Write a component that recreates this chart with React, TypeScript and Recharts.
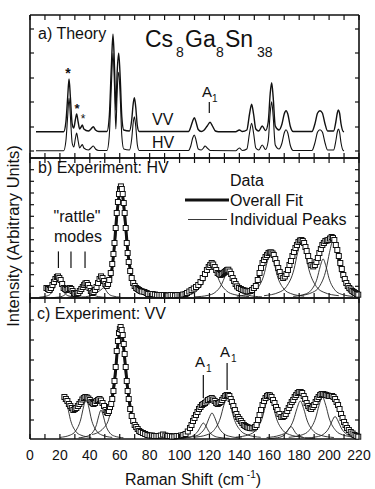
import React from 'react';
import { ComposedChart, Line, Scatter, XAxis, YAxis, ReferenceLine } from 'recharts';

const FONT = '"Liberation Sans", Arial, sans-serif';

// raman shift ticks (cm-1), labelled every 20
const xTicks = [0, 10, 20, 30, 40, 50, 60, 70, 80, 90, 100, 110, 120, 130, 140, 150, 160, 170, 180, 190, 200, 210, 220];

// a) theory, VV and HV spectra (offset traces)
const theoryVV = [[4,26.3],[22.5,26.3],[24,36],[25.2,61],[26.1,79],[27,61],[28.2,34],[29.3,30],[30.3,38],[31.2,44],[32.2,36],[33.2,29],[34.2,31],[35,33],[36,29],[39,27],[40.8,29],[42.3,31.3],[43.8,28],[46,26.5],[51.5,26.5],[53,41],[54.4,91],[55.5,123.7],[56.5,91],[57.4,48],[58.3,86],[59.3,104.7],[60.3,81],[61.4,41],[62.7,28],[66.5,27],[68,38],[69,54],[69.8,60.3],[70.7,51],[71.8,32],[73,26.5],[106,26.5],[107.5,31],[108.8,37],[109.9,40.3],[111,36],[112.5,28.5],[114.5,26.5],[116.5,28],[118.5,32],[120.4,35.7],[122,32],[124,27],[126,26.3],[137.5,26.3],[140,28],[142,26.5],[145,28],[146.8,44],[148.2,53.7],[149.5,44],[151,29],[153,27],[155.3,32],[157.5,27.5],[159.3,36],[160.6,64],[161.6,75.3],[162.6,61],[164,32],[166.5,28],[168.5,34],[170,44],[171.2,47.3],[172.4,44],[174,32],[176,26.5],[188.5,26.5],[190.5,34],[192.3,45],[193.9,47.3],[195.5,45],[197.3,34],[199,27],[203,27],[204.5,36],[205.5,45],[206.2,48],[207,45],[208,34],[209.5,26.5],[210,26.3]];
const theoryHV = [[4,7.3],[22.5,7.3],[24,17],[25.2,42],[26.1,60],[27,42],[28.2,15],[29.3,11],[30.3,19],[31.2,25],[32.2,17],[33.2,10],[34.2,12],[35,13.5],[36,10],[39,8],[40.8,10],[42.3,12],[43.8,9],[46,7.5],[51.5,7.5],[53,22],[54.4,72],[55.5,104.7],[56.5,72],[57.4,29],[58.3,67],[59.3,85.7],[60.3,62],[61.4,22],[62.7,9],[66.5,8],[68,19],[69,35],[69.8,41.3],[70.7,32],[71.8,13],[73,7.5],[106,7.5],[107.5,12],[108.8,20],[109.9,23],[111,18],[112.5,9],[114.5,8],[116,10],[117,12],[118.5,10],[120.5,7.5],[137.5,7.3],[140,10],[142,7.5],[145,9],[146.8,25],[148.2,34.7],[149.5,25],[151,10],[153,8],[155.3,13],[157.5,8.5],[159.3,17],[160.6,45],[161.6,56.3],[162.6,42],[164,13],[166.5,9],[168.5,15],[170,25],[171.2,28.3],[172.4,25],[174,13],[176,7.5],[188.5,7.5],[190.5,15],[192.3,26],[193.9,28.3],[195.5,26],[197.3,15],[199,8],[203,8],[204.5,17],[205.5,26],[206.2,29],[207,26],[208,15],[209.5,7.5],[210,7.3]];

// b) experiment HV
const hvData = [[11,10],[12,9],[13,8],[14,10],[15,13],[16,16],[17,19],[18,21],[18.7,21.6],[19.6,20],[20.5,18],[21.5,14],[22.5,10],[23.5,9],[24.5,8],[25.6,9],[26.7,10],[27.6,9],[28.5,7],[29.4,5],[30.3,4],[31.3,4.5],[32.3,5],[33.3,7],[34.3,9],[35.3,11],[36.2,13],[37,14.5],[37.9,15],[38.8,13],[39.8,10],[40.7,7],[41.6,5],[42.5,6],[43.5,8],[44.5,11],[45.5,15],[46.5,19],[47.5,21.6],[48.5,20],[49.4,17],[50.4,14],[51.3,12],[52.2,14],[53,18],[54,25],[55,34],[55.8,44],[56.5,55],[57.3,70],[58,85],[58.8,96],[59.5,104],[60.2,109],[60.8,111.6],[61.4,109],[62,104],[62.7,95],[63.3,85],[64,70],[64.7,55],[65.3,45],[66,36],[67,27],[68,20],[69,15],[70,12],[71,10],[72,9],[73,8],[74,7],[75,6.5],[76.5,6],[78,5],[79,4],[80.5,4],[82,4],[83.5,3.5],[85,3],[86.5,3],[88,3],[89.5,3],[91,2.5],[92.5,2.5],[94,3],[95.5,3],[97,2.5],[98.5,3],[100,3],[101.3,3],[102.5,3.5],[104,4],[105,5],[106.5,6.5],[108,8],[109.5,9.5],[111,11],[112.5,13],[114,16],[115.5,20],[117,24],[118.3,28],[119.5,31],[120.5,33],[121.5,35],[122.5,33.5],[123.5,31],[124.5,28],[125.5,25],[126.5,24],[127.5,23],[128.5,24],[129.5,25],[130.2,26],[131,27],[131.8,28],[132.6,28.3],[133.5,26.5],[134.5,24],[135.5,20],[136.5,17],[137.5,14],[138.5,11.6],[139.7,10],[141,9],[142.3,8],[143.5,7.5],[144.7,7],[146,6.6],[147.3,7],[148.5,8],[149.7,10],[151,12],[152.3,18],[153.5,25],[154.5,30],[155.5,35],[156.5,38],[157.5,41],[158.5,43],[159.5,45],[160.4,45.5],[161.3,45.6],[162.2,44.5],[163,43],[164,39],[165,35],[166,30],[167,26],[168,22],[169.3,20],[170.4,21.5],[171.5,24],[172.5,28],[173.5,33],[174.5,37],[175.5,42],[176.5,46],[177.5,50],[178.5,53],[179.5,56],[180.5,57.5],[181.5,58],[182.4,57],[183.3,55],[184.2,51],[185,47],[186,42],[187,37],[188.2,33],[189.4,31.6],[190.5,33],[191.5,36],[192.5,40],[193.5,45],[194.5,49],[195.5,53],[196.5,55],[197.5,57],[198.5,57.5],[199.5,58],[200.6,59.5],[201.7,61],[202.6,60],[203.5,58],[204.5,53],[205.5,48],[206.5,42],[207.5,35],[208.5,29],[209.5,23],[210.5,19],[211.5,15],[212.5,12],[213.5,10],[214.5,8.5],[215.5,7],[216.5,6],[217.5,5],[218.5,4],[219.5,3.3]];
const hvFit = [[11,9],[15,12],[18.7,20],[22,11],[24.5,7],[26.7,9],[29,6],[31.5,5],[34.5,9],[37.8,14],[41.5,6],[44.5,11],[47.8,20],[51,12],[53.5,18],[56,45],[58,82],[59.5,102],[60.7,109],[62,102],[63.5,80],[65.5,45],[68,21],[71,11],[75,6],[80,4],[90,2.5],[100,3],[105,5],[110,9],[115,18],[119,30],[121.5,34],[124.5,28],[127.5,23],[130,25],[132.5,27],[135.5,21],[139,11],[143,6.5],[147,7],[151,13],[155,32],[158.5,43],[161,45],[164,39],[167,27],[169.5,21],[172,25],[176,44],[179.5,55],[181.5,57],[184,52],[187,38],[189.5,32],[192,38],[195,50],[198,56],[201.5,59],[204,55],[207,38],[210,20],[214,9],[219.5,3]];
const hvPeaks = [
  [[6.2,0.8],[11.2,2],[13.7,4],[16.2,10],[17.5,16],[18.7,20],[19.9,16],[21.2,10],[23.7,4],[26.2,2],[31.2,0.8]],
  [[14.2,0.4],[19.2,0.9],[21.7,1.8],[24.2,4.5],[25.5,7.2],[26.7,9],[27.9,7.2],[29.2,4.5],[31.7,1.8],[34.2,0.9],[39.2,0.4]],
  [[24.9,0.6],[30.1,1.4],[32.7,2.8],[35.3,7],[36.6,11.2],[37.9,14],[39.2,11.2],[40.5,7],[43.1,2.8],[45.7,1.4],[50.9,0.6]],
  [[34.5,0.8],[39.7,2],[42.3,4],[44.9,10],[46.2,16],[47.5,20],[48.8,16],[50.1,10],[52.7,4],[55.3,2],[60.5,0.8]],
  [[41.7,4.3],[49.3,10.8],[53.1,21.6],[56.9,54],[58.8,86],[60.7,108],[62.6,86],[64.5,54],[68.3,21.6],[72.1,10.8],[79.7,4.3]],
  [[96.5,1.4],[106.5,3.5],[111.5,7],[116.5,17.5],[119,28],[121.5,35],[124,28],[126.5,17.5],[131.5,7],[136.5,3.5],[146.5,1.4]],
  [[110.1,1.1],[119.1,2.7],[123.6,5.4],[128.1,13.5],[130.4,21.6],[132.6,27],[134.9,21.6],[137.1,13.5],[141.6,5.4],[146.1,2.7],[155.1,1.1]],
  [[138.3,1.8],[147.3,4.5],[151.8,9],[156.3,22.5],[158.6,36],[160.8,45],[163.1,36],[165.3,22.5],[169.8,9],[174.3,4.5],[183.3,1.8]],
  [[156.5,2.3],[166.5,5.7],[171.5,11.4],[176.5,28.5],[179,45.6],[181.5,57],[184,45.6],[186.5,28.5],[191.5,11.4],[196.5,5.7],[206.5,2.3]],
  [[176,1.6],[184,3.9],[188,7.8],[192,19.5],[194,31.2],[196,39],[198,31.2],[200,19.5],[204,7.8],[208,3.9],[216,1.6]],
  [[180,2.3],[189,5.7],[193.5,11.4],[198,28.5],[200.3,45.6],[202.5,57],[204.8,45.6],[207,28.5],[211.5,11.4],[216,5.7],[220,3.5]],
];

// c) experiment VV
const vvData = [[23,42],[24,40],[25,38],[26,35],[27,33],[28,31],[29,29],[30,30],[31,31],[32,33],[33,35],[34,37],[35,39.5],[36,41],[37,42],[38,41.5],[39,40.5],[40,39],[41,37],[41.8,36],[42.5,35],[43.5,36],[44.5,38],[45.5,39],[46.5,40],[47.5,38.5],[48.5,36],[49.5,33],[50.5,29],[51.3,27],[52,26],[52.8,28],[53.5,32],[54.3,35],[55,40],[55.8,48],[56.5,58],[57.3,72],[58,88],[58.8,98],[59.5,106],[60.1,110],[60.6,112],[61.3,109],[62,104],[62.7,95],[63.3,85],[64,72],[64.7,58],[65.3,48],[66,40],[67,30],[68,23],[69,18],[70,14],[71,12],[72,10],[73,8],[74,7],[75.5,6],[77,5],[78.5,4],[80,3.5],[81.5,3.5],[83,3],[84.5,3],[86,3],[87.5,3.5],[89,4.5],[90.5,3.5],[92,3],[93.5,3],[95,2.5],[96.5,2.5],[98,3],[99.5,3],[101,3.5],[102.5,4],[104,5],[105.5,7.5],[107,11],[108,14],[109,18],[110,21],[111,24],[112,27],[113,30],[114,32],[115,34],[116,35],[117,36],[118,37.5],[119,39],[120.2,40],[121.5,41],[122.5,39.5],[123.5,38],[124.5,36],[125.5,35],[126.5,36],[127.5,37],[128.5,39],[129.5,41],[130.5,43],[131.5,44],[132.4,44],[133.3,43],[134.2,40],[135,37],[136,33],[137,29],[138,25],[139,22],[140,20],[141,18],[142,16],[143,14],[144,13],[145,12],[146,11.5],[147,11],[148.3,10.8],[149.5,10.7],[150.5,12],[151.5,14],[152.5,19],[153.5,24],[154.5,29],[155.5,34],[156.5,38],[157.5,41],[158.5,43],[159.5,44],[160.5,43.5],[161.5,42],[162.5,39],[163.5,36],[164.5,32],[165.5,29],[166.8,25],[168,22],[169,22],[170,23],[171,25],[172,28],[173,31],[174,34],[175,37],[176,39],[177,42],[178,44],[179,46],[180,47],[181,47],[182,46],[183,43],[184,40],[185,36],[186,33],[187,31],[188,30],[189,32],[190,34],[191,37],[192,40],[193,42],[194,44],[195,45],[196,45],[197,44.5],[198,44],[199,43.5],[200,43],[201,43],[202,43],[203,42],[204,40],[205,37],[206,34],[207,30],[208,25],[209,21],[210,17],[211,14],[212,11],[213.2,9],[214.5,7],[215.7,5.5],[217,4],[218.2,3],[219.5,2.3]];
const vvFit = [[23,40],[26,34],[29,29],[32,32],[36,40],[38,41],[42,35],[45,38],[47,38],[50,30],[52,27],[54.5,38],[57,65],[59,98],[60.6,108],[62,100],[63.5,78],[65.5,48],[68,24],[71,12],[75,6],[80,3.5],[90,3],[100,3.5],[105,6],[108,13],[111,24],[115,33],[118.5,37],[121.5,40],[125.5,35],[128.5,38],[131.5,43],[134,40],[137,29],[141,16],[145,12],[149,11],[153,22],[156.5,38],[159.7,43],[163,38],[166,26],[169.4,22],[173,30],[177,41],[180.5,46],[184,39],[188,30],[191,36],[195,44],[199,43],[203,41],[206,32],[209,20],[213,9],[219.5,2.5]];
const vvPeaks = [
  [[22,37],[23.5,39],[25.3,31],[27,19.5],[30.5,7.8],[34,3.9],[41,1.6]],
  [[20,1.6],[27,4],[30.5,8],[34,20],[35.8,32],[37.5,40],[39.3,32],[41,20],[44.5,8],[48,4],[55,1.6]],
  [[32.5,1.2],[38.5,2.9],[41.5,5.8],[44.5,14.5],[46,23.2],[47.5,29],[49,23.2],[50.5,14.5],[53.5,5.8],[56.5,2.9],[62.5,1.2]],
  [[41.6,4.4],[49.2,10.9],[53,21.8],[56.8,54.5],[58.7,87],[60.6,109],[62.5,87],[64.4,54.5],[68.2,21.8],[72,10.9],[79.6,4.4]],
  [[98.4,0.6],[105.4,1.6],[108.9,3.2],[112.4,8],[114.2,12.8],[115.9,16],[117.7,12.8],[119.4,8],[122.9,3.2],[126.4,1.6],[133.4,0.6]],
  [[101.7,1],[109.7,2.6],[113.7,5.2],[117.7,13],[119.7,20.8],[121.7,26],[123.7,20.8],[125.7,13],[129.7,5.2],[133.7,2.6],[141.7,1]],
  [[109.3,1.7],[118.3,4.2],[122.8,8.4],[127.3,21],[129.6,33.6],[131.8,42],[134.1,33.6],[136.3,21],[140.8,8.4],[145.3,4.2],[154.3,1.7]],
  [[137.5,1.8],[146.5,4.4],[151,8.8],[155.5,22],[157.8,35.2],[160,44],[162.3,35.2],[164.5,22],[169,8.8],[173.5,4.4],[182.5,1.8]],
  [[159.5,0.5],[165.5,1.3],[168.5,2.5],[171.5,6.3],[173,10],[174.5,12.5],[176,10],[177.5,6.3],[180.5,2.5],[183.5,1.3],[189.5,0.5]],
  [[158.2,1.5],[167.2,3.8],[171.7,7.6],[176.2,19],[178.5,30.4],[180.7,38],[183,30.4],[185.2,19],[189.7,7.6],[194.2,3.8],[203.2,1.5]],
  [[173,1.7],[182,4.2],[186.5,8.4],[191,21],[193.3,33.6],[195.5,42],[197.8,33.6],[200,21],[204.5,8.4],[209,4.2],[218,1.7]],
  [[184,0.9],[192,2.3],[196,4.5],[200,11.3],[202,18],[204,22.5],[206,18],[208,11.3],[212,4.5],[216,2.3],[220,1.3]],
];

// y tick marks (no labels) per panel
const aTicks = [7, 31, 56, 80, 105, 129];
const bTicks = [11.7, 23.3, 35, 46.7, 58.3, 70, 81.7, 93.3, 105, 116.7, 128.3];
const cTicks = [19, 39, 59, 79, 99, 119];

// annotation markers
const rattleMarks = [19, 27.4, 36.8];

const PLOT_W = 329;

const toPts = (a) => a.map(([x, y]) => ({ x, y }));

const Square = (props) => {
  const { cx, cy } = props;
  if (cx == null || cy == null) return null;
  return <rect x={cx - 2.5} y={cy - 2.5} width={5} height={5} fill="#fff" stroke="#111" strokeWidth={1} />;
};

// inward tick marks on bottom and top edge, optional labels under the bottom
const XTick = ({ x, y, payload, h, labels }) => (
  <g>
    <line x1={x} x2={x} y1={y} y2={y - 5} stroke="#111" strokeWidth={1.2} />
    <line x1={x} x2={x} y1={y - h} y2={y - h + 5} stroke="#111" strokeWidth={1.2} />
    {labels && payload.value % 20 === 0 ? (
      <text x={x} y={y + 21} textAnchor="middle" fontSize={14} fontFamily={FONT} fill="#111">{payload.value}</text>
    ) : null}
  </g>
);

// inward tick marks on left and right edge
const YTick = ({ x, y }) => (
  <g>
    <line x1={x} x2={x + 4} y1={y} y2={y} stroke="#111" strokeWidth={1.2} />
    <line x1={x + PLOT_W} x2={x + PLOT_W - 4} y1={y} y2={y} stroke="#111" strokeWidth={1.2} />
  </g>
);

const axisLine = { stroke: '#111', strokeWidth: 1.6 };

const Frame = ({ yMax, yTicks, h, labels }) => [
  <XAxis key="xb" dataKey="x" type="number" domain={[0, 220]} ticks={xTicks} height={1} interval={0}
    axisLine={axisLine} tickLine={false} tickSize={0} tickMargin={0}
    tick={(p) => <XTick {...p} h={h} labels={labels} />} />,
  <XAxis key="xt" xAxisId="top" orientation="top" dataKey="x" type="number" domain={[0, 220]} height={1}
    axisLine={axisLine} tickLine={false} tick={false} />,
  <YAxis key="yl" dataKey="y" type="number" domain={[0, yMax]} ticks={yTicks} width={1} interval={0}
    axisLine={axisLine} tickLine={false} tickSize={0} tickMargin={0} tick={(p) => <YTick {...p} />} />,
  <YAxis key="yr" yAxisId="r" orientation="right" type="number" domain={[0, yMax]} width={1}
    axisLine={axisLine} tickLine={false} tick={false} />,
];

const margin = (top, bottom) => ({ top, bottom, left: 29, right: 15 });

export default function App() {
  return (
    <div style={{ position: 'absolute', left: 0, top: 0, width: 375, height: 489, background: '#fff', fontFamily: FONT }}>
      {/* a) theory */}
      <div style={{ position: 'absolute', left: 0, top: 12 }}>
        <ComposedChart width={375} height={149} margin={margin(2, 2)}>
          {Frame({ yMax: 143, yTicks: aTicks, h: 143, labels: false })}
          <Line data={toPts(theoryVV)} dataKey="y" type="monotone" stroke="#111" strokeWidth={1.4} dot={false} isAnimationActive={false} />
          <Line data={toPts(theoryHV)} dataKey="y" type="monotone" stroke="#111" strokeWidth={1.1} dot={false} isAnimationActive={false} />
          <ReferenceLine segment={[{ x: 119.9, y: 45 }, { x: 119.9, y: 56 }]} stroke="#111" strokeWidth={1.2} />
        </ComposedChart>
      </div>

      {/* b) experiment HV */}
      <div style={{ position: 'absolute', left: 0, top: 155 }}>
        <ComposedChart width={375} height={146} margin={margin(2, 2)}>
          {Frame({ yMax: 140, yTicks: bTicks, h: 140, labels: false })}
          {hvPeaks.map((p, i) => (
            <Line key={'hp' + i} data={toPts(p)} dataKey="y" type="monotone" stroke="#222" strokeWidth={0.9} dot={false} isAnimationActive={false} />
          ))}
          <Line data={toPts(hvFit)} dataKey="y" type="monotone" stroke="#111" strokeWidth={3} dot={false} isAnimationActive={false} />
          <Scatter data={toPts(hvData)} shape={<Square />} isAnimationActive={false} />
          {rattleMarks.map((m) => (
            <ReferenceLine key={m} segment={[{ x: m, y: 30 }, { x: m, y: 46.6 }]} stroke="#111" strokeWidth={1.2} />
          ))}
        </ComposedChart>
      </div>

      {/* c) experiment VV */}
      <div style={{ position: 'absolute', left: 0, top: 295 }}>
        <ComposedChart width={375} height={194} margin={margin(2, 49)}>
          {Frame({ yMax: 141, yTicks: cTicks, h: 141, labels: true })}
          {vvPeaks.map((p, i) => (
            <Line key={'vp' + i} data={toPts(p)} dataKey="y" type="monotone" stroke="#222" strokeWidth={0.9} dot={false} isAnimationActive={false} />
          ))}
          <Line data={toPts(vvFit)} dataKey="y" type="monotone" stroke="#111" strokeWidth={3} dot={false} isAnimationActive={false} />
          <Scatter data={toPts(vvData)} shape={<Square />} isAnimationActive={false} />
          <ReferenceLine segment={[{ x: 115.9, y: 41 }, { x: 115.9, y: 64 }]} stroke="#111" strokeWidth={1.2} />
          <ReferenceLine segment={[{ x: 131.8, y: 49 }, { x: 131.8, y: 76 }]} stroke="#111" strokeWidth={1.2} />
        </ComposedChart>
      </div>

      {/* text annotations */}
      <svg width={375} height={489} style={{ position: 'absolute', left: 0, top: 0, pointerEvents: 'none' }} fontFamily={FONT} fill="#111">
        <text x={38} y={39} fontSize={16}>a) Theory</text>
        <text x={145} y={47} fontSize={23}>Cs</text>
        <text x={176} y={57} fontSize={14}>8</text>
        <text x={185} y={47} fontSize={23}>Ga</text>
        <text x={216} y={57} fontSize={14}>8</text>
        <text x={225} y={47} fontSize={23}>Sn</text>
        <text x={257} y={57} fontSize={14}>38</text>
        <text x={68} y={78} fontSize={14} textAnchor="middle" fontWeight="bold">*</text>
        <text x={77} y={113} fontSize={13} textAnchor="middle" fontWeight="bold">*</text>
        <text x={83} y={123} fontSize={12} textAnchor="middle">*</text>
        <text x={202} y={97} fontSize={15}>A</text>
        <text x={212} y={102} fontSize={10}>1</text>
        <text x={152} y={125} fontSize={16}>VV</text>
        <text x={152} y={148} fontSize={16}>HV</text>

        <text x={38} y={173} fontSize={16}>b) Experiment: HV</text>
        <text x={230} y={186} fontSize={16}>Data</text>
        <line x1={185} x2={229} y1={200} y2={200} stroke="#111" strokeWidth={3} />
        <text x={230} y={206} fontSize={16}>Overall Fit</text>
        <line x1={188} x2={227} y1={219.5} y2={219.5} stroke="#222" strokeWidth={0.9} />
        <text x={230} y={225} fontSize={16}>Individual Peaks</text>
        <text x={77} y={222} fontSize={16} textAnchor="middle">"rattle"</text>
        <text x={78} y={242} fontSize={16} textAnchor="middle">modes</text>

        <text x={37} y={319} fontSize={16}>c) Experiment: VV</text>
        <text x={195} y={367} fontSize={15}>A</text>
        <text x={206} y={372} fontSize={10}>1</text>
        <text x={220} y={357} fontSize={15}>A</text>
        <text x={231} y={362} fontSize={10}>1</text>

        <text x={193} y={485} fontSize={16} textAnchor="middle">
          Raman Shift (cm<tspan fontSize={10} dy={-7}> -1</tspan><tspan dy={7}>)</tspan>
        </text>
        <text x={12.5} y={236} fontSize={16.5} textAnchor="middle" dominantBaseline="central" transform="rotate(-90 12.5 236)">
          Intensity (Arbitrary Units)
        </text>
      </svg>
    </div>
  );
}
